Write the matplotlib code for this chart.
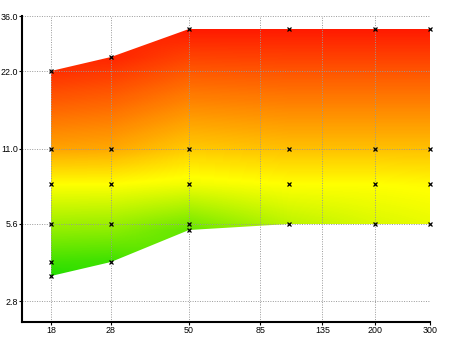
import numpy as np
import matplotlib
matplotlib.use('Agg')
import matplotlib.pyplot as plt
from matplotlib.colors import LinearSegmentedColormap
from matplotlib.patches import Polygon
from matplotlib.ticker import FixedLocator, FixedFormatter, NullLocator
from matplotlib import font_manager

names = {f.name for f in font_manager.fontManager.ttflist}
fam = ['Liberation Sans Narrow'] if 'Liberation Sans Narrow' in names else []
plt.rcParams['font.family'] = fam + ['Liberation Sans', 'DejaVu Sans']
label_size = 7.5 if fam else 6.4

# ---- data ----
focal_lengths = [18, 28, 50, 105, 200, 300]

ap_18 = [3.5, 4, 5.6, 8, 11, 22]
sc_18 = [0.0, 0.08, 0.29, 0.50, 0.69, 0.93]
ap_28 = [4, 5.6, 8, 11, 25]
sc_28 = [0.07, 0.28, 0.50, 0.68, 0.95]
ap_50 = [5.3, 5.6, 8, 11, 32]
sc_50 = [0.15, 0.20, 0.47, 0.61, 0.97]
ap_105 = [5.6, 8, 11, 32]
sc_105 = [0.35, 0.50, 0.63, 0.97]
ap_200 = [5.6, 8, 11, 32]
sc_200 = [0.42, 0.50, 0.63, 0.97]
ap_300 = [5.6, 8, 11, 32]
sc_300 = [0.45, 0.51, 0.63, 0.97]

x_ticks = [18, 28, 50, 85, 135, 200, 300]
x_tick_labels = ['18', '28', '50', '85', '135', '200', '300']
y_ticks = [2.8, 5.6, 11.0, 22.0, 36.0]
y_tick_labels = ['2.8', '5.6', '11.0', '22.0', '36.0']

columns = [(ap_18, sc_18), (ap_28, sc_28), (ap_50, sc_50),
           (ap_105, sc_105), (ap_200, sc_200), (ap_300, sc_300)]
bottom = [min(a) for a, _ in columns]
top = [max(a) for a, _ in columns]

cmap = LinearSegmentedColormap.from_list(
    'ryg', [(0.0, '#1edc00'), (0.5, '#ffff00'), (1.0, '#ff0c00')])

# ---- figure ----
W, H = 450, 337
fig = plt.figure(figsize=(W / 100, H / 100), dpi=100)
left, right, ybot, ytop = 22.3, 430, 322.3, 16.3
ax = fig.add_axes([left / W, (H - ybot) / H, (right - left) / W, (ybot - ytop) / H])
ax.set_xscale('log')
ax.set_yscale('log')
ax.set_xlim(14.54, 300)
ax.set_ylim(2.32, 36)

# colour field (blend column profiles in log space)
lx_cols = np.log(focal_lengths)
gx = np.linspace(lx_cols[0], lx_cols[-1], 600)
gy = np.linspace(np.log(min(bottom)) - 0.02, np.log(max(top)) + 0.02, 500)
prof = np.array([np.interp(gy, np.log(a), s) for a, s in columns])
Z = np.empty((len(gy), len(gx)))
for j, xv in enumerate(gx):
    i = int(np.clip(np.searchsorted(lx_cols, xv) - 1, 0, len(lx_cols) - 2))
    t = (xv - lx_cols[i]) / (lx_cols[i + 1] - lx_cols[i])
    Z[:, j] = (1 - t) * prof[i] + t * prof[i + 1]

mesh = ax.pcolormesh(np.exp(gx), np.exp(gy), Z, cmap=cmap, vmin=0, vmax=1,
                     shading='nearest', antialiased=False, edgecolors='none',
                     zorder=1)
band = Polygon(list(zip(focal_lengths, top)) + list(zip(focal_lengths, bottom))[::-1],
               closed=True, transform=ax.transData, facecolor='none', edgecolor='none')
mesh.set_clip_path(band)

# markers
for f, (a, _) in zip(focal_lengths, columns):
    ax.plot([f] * len(a), a, linestyle='none', marker='x', color='black',
            ms=2.6, mew=0.9, zorder=4, clip_on=False)

# axes styling
ax.xaxis.set_major_locator(FixedLocator(x_ticks))
ax.xaxis.set_major_formatter(FixedFormatter(x_tick_labels))
ax.xaxis.set_minor_locator(NullLocator())
ax.yaxis.set_major_locator(FixedLocator(y_ticks))
ax.yaxis.set_major_formatter(FixedFormatter(y_tick_labels))
ax.yaxis.set_minor_locator(NullLocator())

ax.set_axisbelow(False)
ax.grid(True, which='major', linestyle=(0, (1, 1.5)), color='#999999', lw=0.7, zorder=3)
for s in ['top', 'right']:
    ax.spines[s].set_visible(False)
for s in ['left', 'bottom']:
    ax.spines[s].set_linewidth(1.5)
    ax.spines[s].set_color('black')
    ax.spines[s].set_zorder(5)
ax.tick_params(axis='both', direction='out', length=2, width=0.8, labelsize=label_size,
               pad=1, colors='black')

fig.savefig('out.png', dpi=100)
